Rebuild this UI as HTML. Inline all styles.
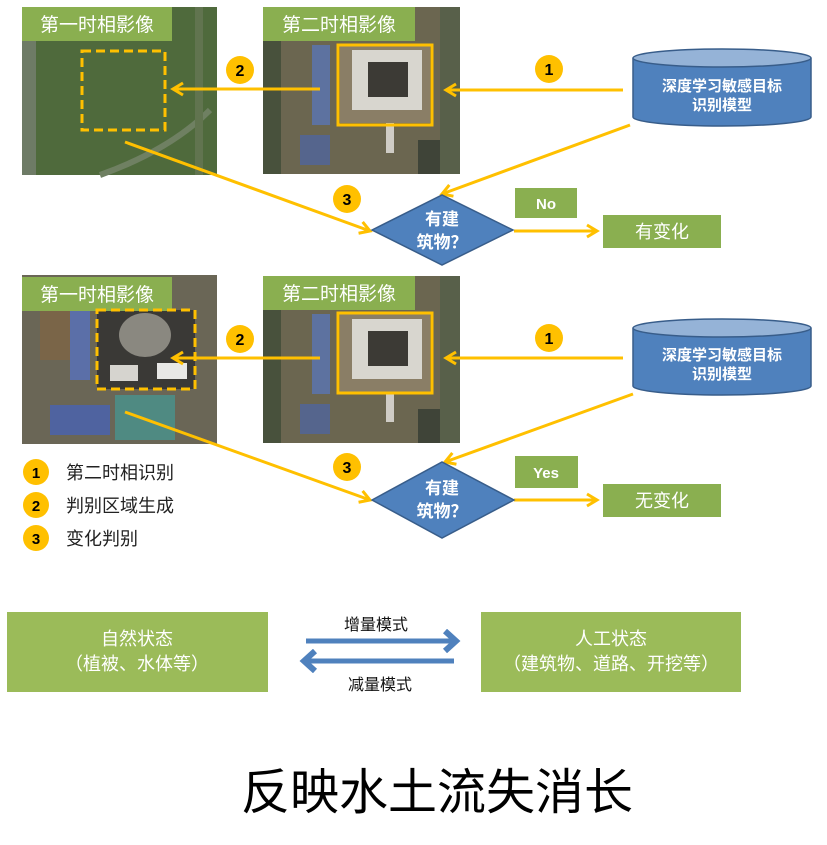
<!DOCTYPE html>
<html><head><meta charset="utf-8"><style>
html,body{margin:0;padding:0;background:#fff;}
svg{display:block;}
text{font-family:"Liberation Sans","Noto Sans CJK SC",sans-serif;}
</style></head><body>
<svg width="827" height="845" viewBox="0 0 827 845" xmlns="http://www.w3.org/2000/svg">
<defs>
<marker id="ah" markerWidth="16" markerHeight="16" refX="12" refY="8" orient="auto" markerUnits="userSpaceOnUse">
<path d="M2,2 L12,8 L2,14" fill="none" stroke="#FFC000" stroke-width="3"/></marker>
<marker id="bh" markerWidth="20" markerHeight="24" refX="14" refY="12" orient="auto" markerUnits="userSpaceOnUse">
<path d="M3,2 L14,12 L3,22" fill="none" stroke="#4F81BD" stroke-width="6"/></marker>
<g id="img2">
<rect x="263" y="7" width="197" height="167" fill="#6b6650"/>
<rect x="263" y="7" width="18" height="167" fill="#48513c"/>
<rect x="312" y="45" width="18" height="80" fill="#5d72a0"/>
<rect x="300" y="135" width="30" height="30" fill="#55658d"/>
<rect x="340" y="45" width="90" height="78" fill="#8a7e66"/>
<rect x="352" y="50" width="70" height="60" fill="#d8d6cf"/>
<rect x="368" y="62" width="40" height="35" fill="#3c3a35"/>
<rect x="386" y="123" width="8" height="30" fill="#cfccc5"/>
<rect x="418" y="140" width="40" height="34" fill="#3f4438"/>
<rect x="440" y="7" width="20" height="167" fill="#58604a"/>
</g>
</defs>
<!-- TOP SECTION -->
<rect x="22" y="7" width="195" height="168" fill="#4f6a3c"/>
<rect x="22" y="7" width="14" height="168" fill="#6e7b66"/>
<path d="M100,175 Q170,150 210,110" stroke="#6f8062" stroke-width="6" fill="none"/>
<rect x="195" y="7" width="8" height="168" fill="#61744f"/>
<rect x="22" y="7" width="150" height="34" fill="#8AAF50"/>
<text x="97" y="31" font-size="19" fill="#fff" text-anchor="middle">第一时相影像</text>
<rect x="82" y="51" width="83" height="79" fill="none" stroke="#FFC000" stroke-width="3" stroke-dasharray="9,5"/>
<use href="#img2"/>
<rect x="263" y="7" width="152" height="34" fill="#8AAF50"/>
<text x="339" y="31" font-size="19" fill="#fff" text-anchor="middle">第二时相影像</text>
<rect x="338" y="45" width="94" height="80" fill="none" stroke="#FFC000" stroke-width="3"/>
<path d="M633,58 L633,117 A89,9 0 0 0 811,117 L811,58" fill="#4F81BD" stroke="#385d8a" stroke-width="1.5"/>
<ellipse cx="722" cy="58" rx="89" ry="9" fill="#95b3d7" stroke="#385d8a" stroke-width="1.5"/>
<text x="722" y="91" font-size="15" fill="#fff" text-anchor="middle" font-weight="bold">深度学习敏感目标</text>
<text x="722" y="110" font-size="15" fill="#fff" text-anchor="middle" font-weight="bold">识别模型</text>
<line x1="623" y1="90" x2="446" y2="90" stroke="#FFC000" stroke-width="3" marker-end="url(#ah)"/>
<line x1="320" y1="89" x2="173" y2="89" stroke="#FFC000" stroke-width="3" marker-end="url(#ah)"/>
<line x1="630" y1="125" x2="442" y2="194" stroke="#FFC000" stroke-width="3" marker-end="url(#ah)"/>
<line x1="125" y1="142" x2="370" y2="231" stroke="#FFC000" stroke-width="3" marker-end="url(#ah)"/>
<line x1="514" y1="231" x2="597" y2="231" stroke="#FFC000" stroke-width="3" marker-end="url(#ah)"/>
<circle cx="549" cy="69" r="14" fill="#FFC000"/><text x="549" y="75" font-size="16" font-weight="bold" text-anchor="middle">1</text>
<circle cx="240" cy="70" r="14" fill="#FFC000"/><text x="240" y="76" font-size="16" font-weight="bold" text-anchor="middle">2</text>
<circle cx="347" cy="199" r="14" fill="#FFC000"/><text x="347" y="205" font-size="16" font-weight="bold" text-anchor="middle">3</text>
<polygon points="372,230 442,195 513,230 442,265" fill="#4F81BD" stroke="#385d8a" stroke-width="1.5"/>
<text x="442" y="225" font-size="17" fill="#fff" text-anchor="middle" font-weight="bold">有建</text>
<text x="442" y="248" font-size="17" fill="#fff" text-anchor="middle" font-weight="bold">筑物？</text>
<rect x="515" y="188" width="62" height="30" fill="#8AAF50"/>
<text x="546" y="209" font-size="15" fill="#fff" text-anchor="middle" font-weight="bold">No</text>
<rect x="603" y="215" width="118" height="33" fill="#8AAF50"/>
<text x="662" y="238" font-size="18" fill="#fff" text-anchor="middle">有变化</text>

<!-- SECOND SECTION -->
<rect x="22" y="275" width="195" height="169" fill="#6a6656"/>
<rect x="40" y="290" width="40" height="70" fill="#7a6548"/>
<rect x="70" y="310" width="20" height="70" fill="#5b6fa8"/>
<rect x="50" y="405" width="60" height="30" fill="#4f63a0"/>
<rect x="97" y="310" width="98" height="79" fill="#3a3936"/>
<ellipse cx="145" cy="335" rx="26" ry="22" fill="#8a8880"/>
<rect x="110" y="365" width="28" height="16" fill="#d6d4cf"/>
<rect x="157" y="363" width="30" height="16" fill="#e8e8e6"/>
<rect x="115" y="395" width="60" height="45" fill="#4f8a82"/>
<rect x="22" y="277" width="150" height="34" fill="#8AAF50"/>
<text x="97" y="301" font-size="19" fill="#fff" text-anchor="middle">第一时相影像</text>
<rect x="97" y="310" width="98" height="79" fill="none" stroke="#FFC000" stroke-width="3" stroke-dasharray="9,5"/>
<g transform="translate(0,269)"><use href="#img2"/></g>
<rect x="263" y="276" width="152" height="34" fill="#8AAF50"/>
<text x="339" y="300" font-size="19" fill="#fff" text-anchor="middle">第二时相影像</text>
<rect x="338" y="313" width="94" height="80" fill="none" stroke="#FFC000" stroke-width="3"/>
<path d="M633,328 L633,386 A89,9 0 0 0 811,386 L811,328" fill="#4F81BD" stroke="#385d8a" stroke-width="1.5"/>
<ellipse cx="722" cy="328" rx="89" ry="9" fill="#95b3d7" stroke="#385d8a" stroke-width="1.5"/>
<text x="722" y="360" font-size="15" fill="#fff" text-anchor="middle" font-weight="bold">深度学习敏感目标</text>
<text x="722" y="379" font-size="15" fill="#fff" text-anchor="middle" font-weight="bold">识别模型</text>
<line x1="623" y1="358" x2="446" y2="358" stroke="#FFC000" stroke-width="3" marker-end="url(#ah)"/>
<line x1="320" y1="358" x2="173" y2="358" stroke="#FFC000" stroke-width="3" marker-end="url(#ah)"/>
<line x1="633" y1="394" x2="445" y2="462" stroke="#FFC000" stroke-width="3" marker-end="url(#ah)"/>
<line x1="125" y1="412" x2="370" y2="500" stroke="#FFC000" stroke-width="3" marker-end="url(#ah)"/>
<line x1="514" y1="500" x2="597" y2="500" stroke="#FFC000" stroke-width="3" marker-end="url(#ah)"/>
<circle cx="549" cy="338" r="14" fill="#FFC000"/><text x="549" y="344" font-size="16" font-weight="bold" text-anchor="middle">1</text>
<circle cx="240" cy="339" r="14" fill="#FFC000"/><text x="240" y="345" font-size="16" font-weight="bold" text-anchor="middle">2</text>
<circle cx="347" cy="467" r="14" fill="#FFC000"/><text x="347" y="473" font-size="16" font-weight="bold" text-anchor="middle">3</text>
<polygon points="372,500 442,462 514,500 442,538" fill="#4F81BD" stroke="#385d8a" stroke-width="1.5"/>
<text x="442" y="494" font-size="17" fill="#fff" text-anchor="middle" font-weight="bold">有建</text>
<text x="442" y="517" font-size="17" fill="#fff" text-anchor="middle" font-weight="bold">筑物？</text>
<rect x="515" y="456" width="63" height="32" fill="#8AAF50"/>
<text x="546" y="478" font-size="15" fill="#fff" text-anchor="middle" font-weight="bold">Yes</text>
<rect x="603" y="484" width="118" height="33" fill="#8AAF50"/>
<text x="662" y="507" font-size="18" fill="#fff" text-anchor="middle">无变化</text>
<circle cx="36" cy="472" r="13" fill="#FFC000"/><text x="36" y="478" font-size="15" font-weight="bold" text-anchor="middle">1</text>
<circle cx="36" cy="505" r="13" fill="#FFC000"/><text x="36" y="511" font-size="15" font-weight="bold" text-anchor="middle">2</text>
<circle cx="36" cy="538" r="13" fill="#FFC000"/><text x="36" y="544" font-size="15" font-weight="bold" text-anchor="middle">3</text>
<text x="66" y="479" font-size="18" fill="#222">第二时相识别</text>
<text x="66" y="512" font-size="18" fill="#222">判别区域生成</text>
<text x="66" y="545" font-size="18" fill="#222">变化判别</text>
<rect x="7" y="612" width="261" height="80" fill="#9BBB59"/>
<text x="137" y="645" font-size="18" fill="#fff" text-anchor="middle">自然状态</text>
<text x="137" y="670" font-size="18" fill="#fff" text-anchor="middle">（植被、水体等）</text>
<rect x="481" y="612" width="260" height="80" fill="#9BBB59"/>
<text x="611" y="645" font-size="18" fill="#fff" text-anchor="middle">人工状态</text>
<text x="611" y="670" font-size="18" fill="#fff" text-anchor="middle">（建筑物、道路、开挖等）</text>
<line x1="306" y1="641" x2="456" y2="641" stroke="#4F81BD" stroke-width="5" marker-end="url(#bh)"/>
<line x1="454" y1="661" x2="304" y2="661" stroke="#4F81BD" stroke-width="5" marker-end="url(#bh)"/>
<text x="376" y="630" font-size="16" fill="#111" text-anchor="middle">增量模式</text>
<text x="380" y="690" font-size="16" fill="#111" text-anchor="middle">减量模式</text>
<text x="437" y="809" font-size="49" fill="#000" text-anchor="middle">反映水土流失消长</text>
</svg>
</body></html>
